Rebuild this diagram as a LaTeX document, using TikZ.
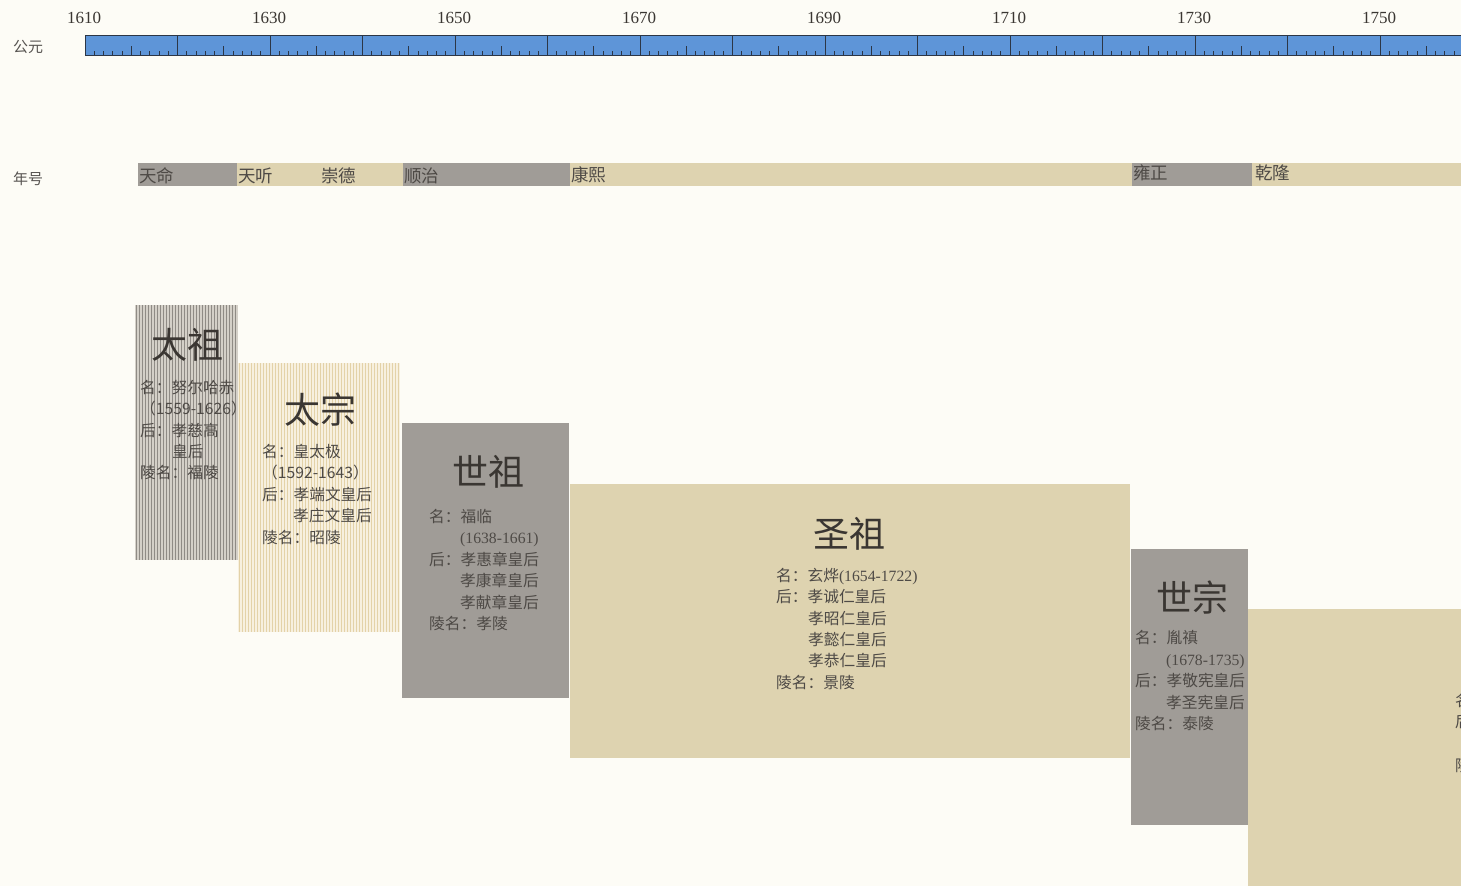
\documentclass[tikz,border=0pt]{standalone}
\usepackage{fontspec}
\setmainfont{Liberation Serif}
\newfontfamily\cjk{Noto Sans CJK SC}
\definecolor{paper}{HTML}{FDFCF6}
\definecolor{rulerblue}{HTML}{5E95D8}
\definecolor{tickc}{HTML}{2C3646}
\definecolor{grayb}{HTML}{A09C97}
\definecolor{tanb}{HTML}{DED3B0}
\definecolor{ink}{HTML}{3A3632}
\definecolor{stripegray}{HTML}{8F8B85}
\definecolor{stripegraybg}{HTML}{D4D0C8}
\definecolor{stripetan}{HTML}{E3D2A8}
\definecolor{stripetanbg}{HTML}{F7F0DF}
\tikzset{
  yearlbl/.style={font=\fontsize{17}{17}\selectfont, text=ink, inner sep=0pt},
  sidelbl/.style={font=\cjk\fontsize{15}{15}\selectfont, text=ink!85, inner sep=0pt},
  eralbl/.style={font=\cjk\fontsize{17.5}{17.5}\selectfont, text=ink!90, inner sep=0pt, anchor=west},
  title/.style={font=\cjk\fontsize{36}{36}\selectfont, text=ink, inner sep=0pt},
  body/.style={font=\cjk\fontsize{15.7}{15.7}\selectfont, text=ink!90, inner sep=0pt, anchor=base west},
  tick/.style={draw=tickc, line width=0.9pt},
}
\newcommand\bodyline[4]{\node[body] (#1) at (#2,#3) {#4};}
\begin{document}
\begin{tikzpicture}[x=1pt,y=-1pt]
\useasboundingbox (0,0) rectangle (1461,886);
\fill[paper] (0,0) rectangle (1461,886);

% ---------- ruler ----------
\fill[rulerblue] (85,35) rectangle (1461,55);
\draw[tickc, line width=0.8pt] (1461,35) -- (85,35) -- (85,55) -- (1461,55);
\foreach \yr in {1611,...,1758}{
  \pgfmathsetmacro\xx{85+(\yr-1610)*9.25}
  \pgfmathtruncatemacro\mt{mod(\yr,10)}
  \pgfmathtruncatemacro\mf{mod(\yr,5)}
  \ifnum\mt=0 \def\hh{20}\else\ifnum\mf=0 \def\hh{9}\else\def\hh{4.5}\fi\fi
  \draw[tick] (\xx,55) -- ++(0,-\hh);
}
\foreach \yr/\nm in {1610/y1610,1630/y1630,1650/y1650,1670/y1670,1690/y1690,1710/y1710,1730/y1730,1750/y1750}{
  \pgfmathsetmacro\xx{85+(\yr-1610)*9.25}
  \node[yearlbl] (\nm) at (\xx-1,18) {\yr};
}
\node[sidelbl] (gy) at (28,47) {公元};

% ---------- era row ----------
\node[sidelbl] (nh) at (28,179) {年号};
\fill[grayb] (138,163) rectangle (237,186);
\fill[tanb]  (237,163) rectangle (403,186);
\fill[grayb] (403,163) rectangle (570,186);
\fill[tanb]  (570,163) rectangle (1132,186);
\fill[grayb] (1132,163) rectangle (1252,186);
\fill[tanb]  (1252,163) rectangle (1461,186);
\node[eralbl] (e1) at (139,176) {天命};
\node[eralbl] (e2) at (238,176) {天听};
\node[eralbl] (e3) at (321,176) {崇德};
\node[eralbl] (e4) at (404,176) {顺治};
\node[eralbl] (e5) at (571,175) {康熙};
\node[eralbl] (e6) at (1133,173) {雍正};
\node[eralbl] (e7) at (1255,173) {乾隆};

% ---------- emperor boxes ----------
% Taizu (striped gray)
\fill[stripegraybg] (135,305) rectangle (238,560);
\foreach \i in {0,...,33}{
  \draw[stripegray, line width=1.5pt] (136.5+\i*3,305) -- (136.5+\i*3,560);
}
% Taizong (striped tan)
\fill[stripetanbg] (238,363) rectangle (400,632);
\foreach \i in {0,...,53}{
  \draw[stripetan, line width=1.5pt] (239.5+\i*3,363) -- (239.5+\i*3,632);
}
\fill[grayb] (402,423) rectangle (569,698);
\fill[tanb]  (570,484) rectangle (1130,758);
\fill[grayb] (1131,549) rectangle (1248,825);
\fill[tanb]  (1248,609) rectangle (1461,886);

% Taizu text
\node[title] (t1) at (187,345) {太祖};
\bodyline{a1}{140}{393}{名：努尔哈赤}
\bodyline{a2}{140}{414}{（1559-1626）}
\bodyline{a3}{140}{436}{后：孝慈高}
\bodyline{a4}{172}{457}{皇后}
\bodyline{a5}{140}{478}{陵名：福陵}

% Taizong text
\node[title] (t2) at (320,410) {太宗};
\bodyline{b1}{262}{457}{名：皇太极}
\bodyline{b2}{262}{478}{（1592-1643）}
\bodyline{b3}{262}{500}{后：孝端文皇后}
\bodyline{b4}{293}{521}{孝庄文皇后}
\bodyline{b5}{262}{543}{陵名：昭陵}

% Shizu text
\node[title] (t3) at (488,472) {世祖};
\bodyline{c1}{429}{522}{名：福临}
\bodyline{c2}{460}{543}{{\rmfamily (1638-1661)}}
\bodyline{c3}{429}{565}{后：孝惠章皇后}
\bodyline{c4}{460}{586}{孝康章皇后}
\bodyline{c5}{460}{608}{孝献章皇后}
\bodyline{c6}{429}{629}{陵名：孝陵}

% Shengzu text
\node[title] (t4) at (849,534) {圣祖};
\bodyline{d1}{776}{581}{名：玄烨{\rmfamily (1654-1722)}}
\bodyline{d2}{776}{602}{后：孝诚仁皇后}
\bodyline{d3}{808}{624}{孝昭仁皇后}
\bodyline{d4}{808}{645}{孝懿仁皇后}
\bodyline{d5}{808}{666}{孝恭仁皇后}
\bodyline{d6}{776}{688}{陵名：景陵}

% Shizong text
\node[title] (t5) at (1192,598) {世宗};
\bodyline{f1}{1135}{643}{名：胤禛}
\bodyline{f2}{1166}{665}{{\rmfamily (1678-1735)}}
\bodyline{f3}{1135}{686}{后：孝敬宪皇后}
\bodyline{f4}{1166}{708}{孝圣宪皇后}
\bodyline{f5}{1135}{729}{陵名：泰陵}

% cut-off text of the next box
\begin{scope}
\clip (0,0) rectangle (1461,886);
\bodyline{g1}{1455}{706}{名}
\bodyline{g2}{1455}{727}{后}
\bodyline{g3}{1455}{771}{陵}
\end{scope}
\end{tikzpicture}
\end{document}
